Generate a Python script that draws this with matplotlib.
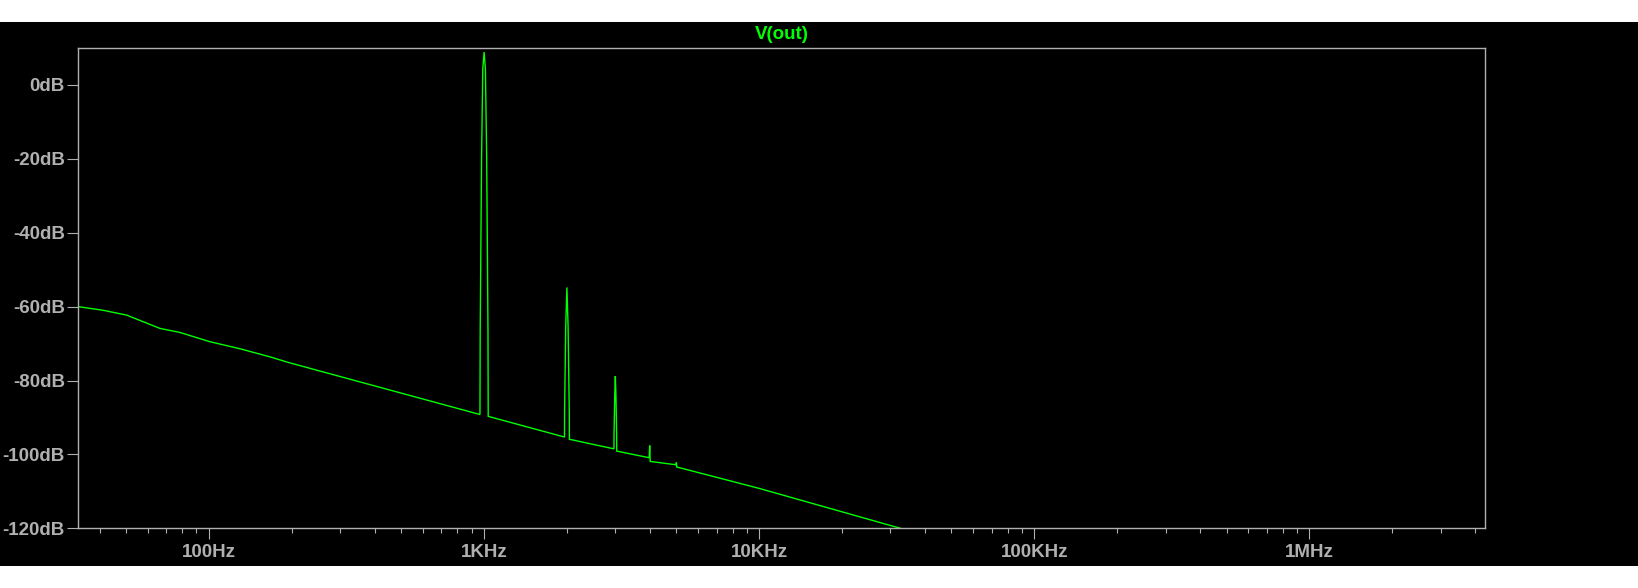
import matplotlib
matplotlib.use('Agg')
import matplotlib.pyplot as plt
from matplotlib.patches import Rectangle
from matplotlib.ticker import FixedLocator, NullFormatter

# ---- data ----
freq_hz = [33.4, 41.3, 50.2, 57.7, 66.4, 78.5, 100.8, 129.6, 166.7, 194.0,
           966, 968, 979, 989, 1000, 1011, 1022, 1033, 1035,
           1960, 1962, 1980, 2000, 2020, 2040, 2042,
           2965, 2968, 2985, 3000, 3015, 3032, 3035,
           3980, 3990, 4000, 4015,
           4980, 5000, 5015,
           10000, 32600, 45000]
level_db = [-60.0, -61.0, -62.3, -64.1, -65.9, -67.0, -69.5, -71.4, -73.6, -75.1,
            -89.2, -66.2, -20.0, 4.3, 8.9, 4.3, -20.0, -66.7, -89.7,
            -95.3, -88.1, -65.5, -54.8, -65.5, -88.5, -95.9,
            -98.5, -93.9, -84.0, -78.8, -84.0, -94.2, -99.1,
            -100.9, -99.4, -97.6, -101.9,
            -102.8, -102.2, -103.4,
            -109.2, -120.0, -123.0]

y_ticks = [0, -20, -40, -60, -80, -100, -120]
y_tick_labels = ['0dB', '-20dB', '-40dB', '-60dB', '-80dB', '-100dB', '-120dB']
x_ticks = [1e2, 1e3, 1e4, 1e5, 1e6]
x_tick_labels = ['100Hz', '1KHz', '10KHz', '100KHz', '1MHz']
x_minor = [m * 10 ** e for e in range(1, 7) for m in range(2, 10)]
title = 'V(out)'

# ---- styling ----
W, H = 1638, 588
GRAY = '#b0b0b0'
GREEN = '#00ff00'
plt.rcParams['font.family'] = ['Liberation Sans', 'DejaVu Sans']
plt.rcParams['font.weight'] = 'bold'

fig = plt.figure(figsize=(W / 100, H / 100), dpi=100, facecolor='white')
band = Rectangle((0, (H - 566) / H), 1, 544 / H, transform=fig.transFigure,
                 facecolor='black', edgecolor='none', zorder=-10)
fig.add_artist(band)

left, right, top, bottom = 78, 1485, 48, 528.3
ax = fig.add_axes([left / W, (H - bottom) / H, (right - left) / W, (bottom - top) / H])
ax.set_zorder(1)
ax.set_facecolor('black')
ax.plot(freq_hz, level_db, color=GREEN, linewidth=1.0, solid_joinstyle='miter')
ax.set_xscale('log')
ax.set_xlim(33.4, 4.35e6)
ax.set_ylim(-120, 10)

for s in ax.spines.values():
    s.set_color(GRAY)
    s.set_linewidth(1.0)

ax.xaxis.set_major_locator(FixedLocator(x_ticks))
ax.set_xticklabels(x_tick_labels)
ax.xaxis.set_minor_locator(FixedLocator(x_minor))
ax.xaxis.set_minor_formatter(NullFormatter())
ax.set_yticks(y_ticks)
ax.set_yticklabels(y_tick_labels)

ax.tick_params(axis='both', which='major', direction='out', length=8, width=0.8,
               color=GRAY, labelcolor=GRAY, labelsize=13.5)
ax.tick_params(axis='x', which='major', pad=3.5)
ax.tick_params(axis='y', which='major', pad=1.5)
ax.tick_params(axis='x', which='minor', direction='out', length=3.8, width=0.8, color=GRAY)
ax.tick_params(top=False, right=False, which='both')
for lbl in ax.get_xticklabels() + ax.get_yticklabels():
    lbl.set_fontweight('bold')

fig.text((left + right) / 2 / W, (H - 34.5) / H, title, color=GREEN,
         fontsize=13.5, fontweight='bold', ha='center', va='center', zorder=2)

fig.savefig('out.png', dpi=100, facecolor='white')
